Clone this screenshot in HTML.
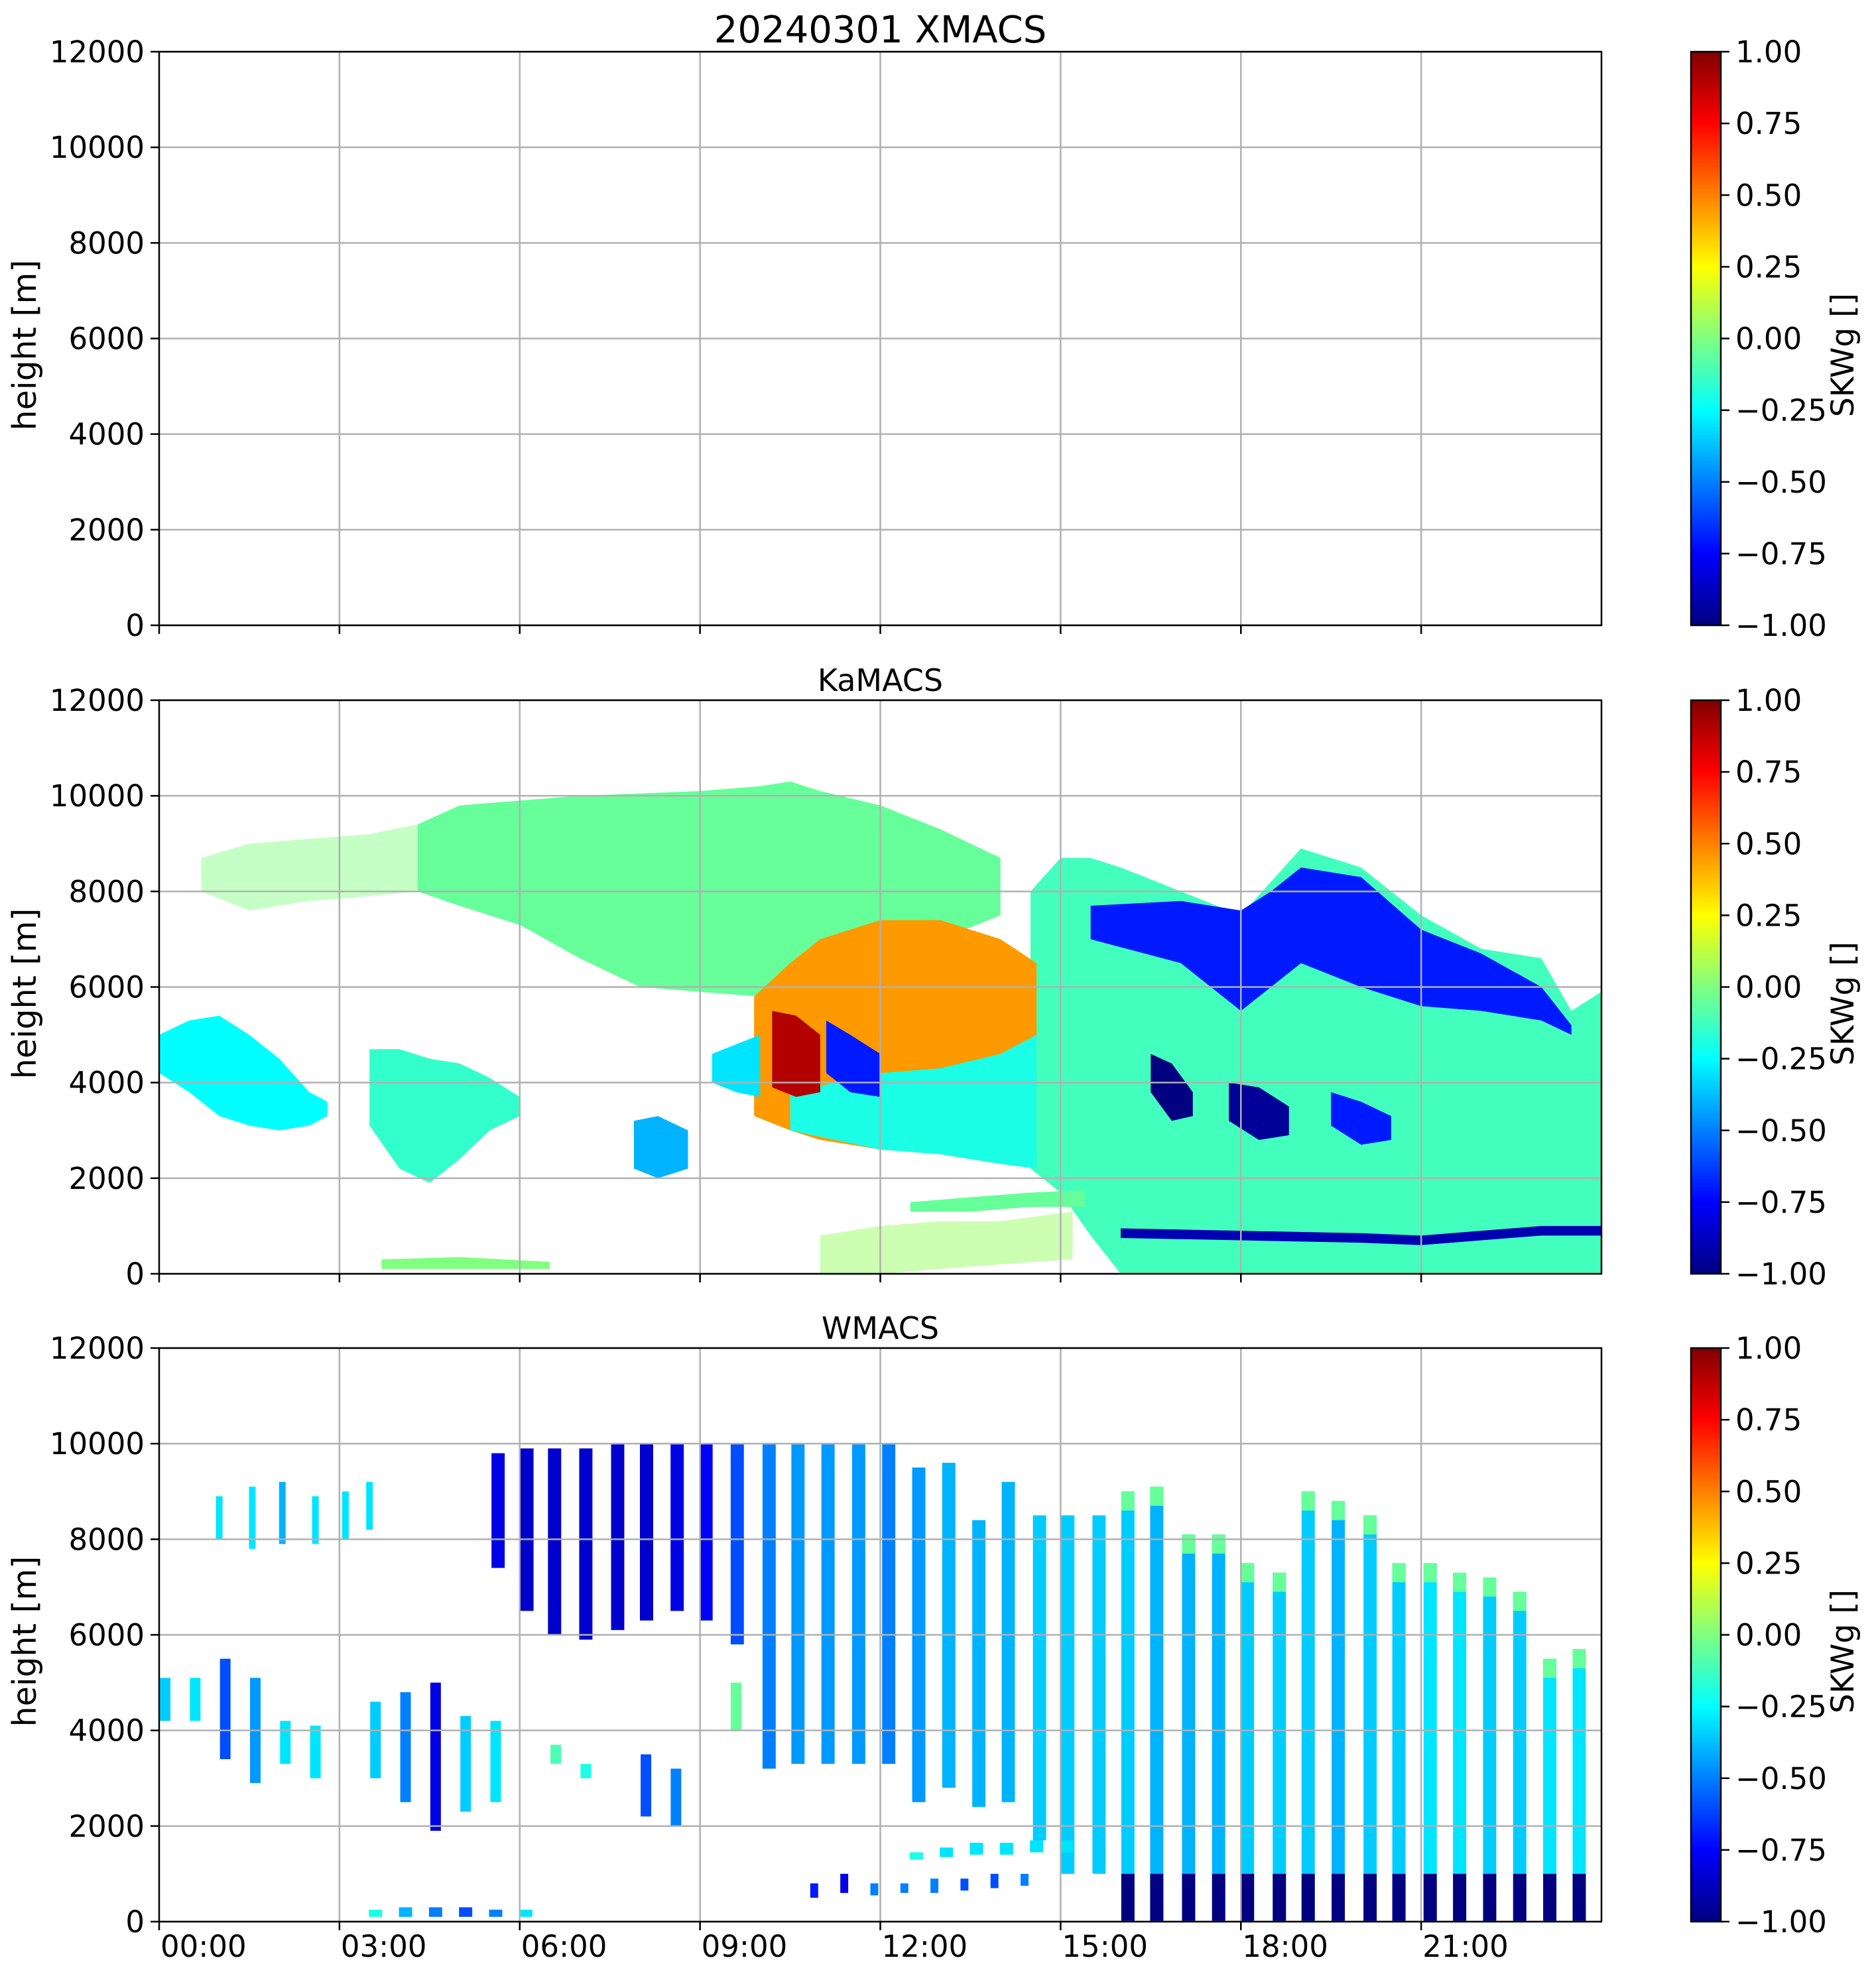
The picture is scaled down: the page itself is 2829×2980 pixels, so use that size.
<!DOCTYPE html>
<html><head><meta charset="utf-8"><style>
html,body{margin:0;padding:0;background:#fff}
svg{display:block;font-family:"DejaVu Sans","Liberation Sans",sans-serif}
</style></head><body>
<svg id="fig" width="2829" height="2980" viewBox="0 0 2829 2980" xmlns="http://www.w3.org/2000/svg"></svg>
<script>
// ---------- data ----------
const yTicks = [0,2000,4000,6000,8000,10000,12000];
const xTickHours = [0,3,6,9,12,15,18,21];
const xTickLabels = ["00:00","03:00","06:00","09:00","12:00","15:00","18:00","21:00"];
const cbTicks = [-1,-0.75,-0.5,-0.25,0,0.25,0.5,0.75,1];
const cbTickLabels = ["\u22121.00","\u22120.75","\u22120.50","\u22120.25","0.00","0.25","0.50","0.75","1.00"];
const panelTitles = ["20240301 XMACS","KaMACS","WMACS"];

// KaMACS blobs: times (h), top (m), base (m), value
const kaSparseT = [0.7,1.5,2.5,3.5,4.3];
const kaSparseTop = [8700,9000,9100,9200,9400];
const kaSparseBase = [8000,7600,7800,7900,8000];
const kaSparseVal = 0.0;
const kaCirrusT = [4.3,5,6,7,8,9,10,10.5,11,12,13,14];
const kaCirrusTop = [9400,9800,9900,10000,10050,10100,10200,10300,10100,9800,9300,8700];
const kaCirrusBase = [8000,7700,7300,6600,6000,5900,5800,5900,6000,6500,7000,7500];
const kaCirrusVal = -0.05;
const kaRightT = [14.5,15,15.5,16,17,18,19,20,21,22,23,23.5,24];
const kaRightTop = [8000,8700,8700,8500,8000,7500,8900,8500,7500,6800,6600,5500,5900];
const kaRightBase = [2200,1700,800,0,0,0,0,0,0,0,0,0,0];
const kaRightVal = -0.12;
const kaOrangeT = [9.9,10.5,11,12,13,14,14.6];
const kaOrangeTop = [5800,6500,7000,7400,7400,7000,6500];
const kaOrangeBase = [3300,3000,2800,2600,2500,2300,2200];
const kaOrangeVal = 0.45;
const kaOrangeLowT = [10.5,12,13,14,14.6];
const kaOrangeLowTop = [3800,4200,4300,4600,5000];
const kaOrangeLowBase = [3000,2600,2500,2300,2200];
const kaOrangeLowVal = -0.2;
const kaRedT = [10.2,10.6,11];
const kaRedTop = [5500,5400,5000];
const kaRedBase = [3900,3700,3800];
const kaRedVal = 0.9;
const kaBlueStripT = [11.1,11.5,12];
const kaBlueStripTop = [5300,5000,4600];
const kaBlueStripBase = [4200,3800,3700];
const kaBlueStripVal = -0.7;
const kaUpperBlueT = [15.5,17,18,18.5,19,20,21,22,23,23.5];
const kaUpperBlueTop = [7700,7800,7600,8000,8500,8300,7200,6700,6000,5200];
const kaUpperBlueBase = [7000,6500,5500,6000,6500,6000,5600,5500,5300,5000];
const kaUpperBlueVal = -0.7;
const kaDark1T = [16.5,16.85,17.2];
const kaDark1Top = [4600,4400,3800];
const kaDark1Base = [3800,3200,3300];
const kaDark1Val = -1;
const kaDark2T = [17.8,18.3,18.8];
const kaDark2Top = [4000,3900,3500];
const kaDark2Base = [3200,2800,2900];
const kaDark2Val = -0.95;
const kaDark3T = [19.5,20,20.5];
const kaDark3Top = [3800,3600,3300];
const kaDark3Base = [3100,2700,2800];
const kaDark3Val = -0.7;
const kaSurfLineT = [16,18,20,21,22,23,24];
const kaSurfLineTop = [950,900,850,800,900,1000,1000];
const kaSurfLineBase = [750,700,650,600,700,800,800];
const kaSurfLineVal = -0.9;
const kaLow1T = [0,0.5,1,1.5,2,2.5,2.8];
const kaLow1Top = [5000,5300,5400,5000,4500,3800,3600];
const kaLow1Base = [4200,3800,3300,3100,3000,3100,3300];
const kaLow1Val = -0.25;
const kaLow2T = [3.5,4,4.5,5,5.5,6];
const kaLow2Top = [4700,4700,4500,4400,4100,3700];
const kaLow2Base = [3100,2200,1900,2400,3000,3300];
const kaLow2Val = -0.15;
const kaLow3T = [7.9,8.3,8.8];
const kaLow3Top = [3200,3300,3000];
const kaLow3Base = [2200,2000,2200];
const kaLow3Val = -0.4;
const kaLow4T = [9.2,9.6,10];
const kaLow4Top = [4600,4800,5000];
const kaLow4Base = [4000,3800,3700];
const kaLow4Val = -0.3;
const kaStratusT = [12.5,13.5,14.5,15.4];
const kaStratusTop = [1500,1600,1700,1750];
const kaStratusBase = [1300,1300,1400,1400];
const kaStratusVal = -0.05;
const kaBoundaryT = [11,12,13,14,15.2];
const kaBoundaryTop = [800,1000,1100,1100,1300];
const kaBoundaryBase = [0,0,100,200,300];
const kaBoundaryVal = 0.05;
const kaSurfT = [3.7,5,6.5];
const kaSurfTop = [300,350,250];
const kaSurfBase = [100,100,100];
const kaSurfVal = 0.0;

// WMACS scan columns: time (h), base (m), top (m), value
const wUpperT = [5.64,6.12,6.58,7.1,7.63,8.11,8.62,9.1,9.62];
const wUpperBase = [7400,6500,6000,5900,6100,6300,6500,6300,5800];
const wUpperTop = [9800,9900,9900,9900,10000,10000,10000,10000,10000];
const wUpperVal = [-0.8,-0.85,-0.85,-0.85,-0.85,-0.85,-0.8,-0.75,-0.6];
const wDeepT = [10.15,10.63,11.13,11.64,12.14,12.64,13.14,13.64,14.13,14.65,15.12,15.64];
const wDeepBase = [3200,3300,3300,3300,3300,2500,2800,2400,2500,1700,1000,1000];
const wDeepTop = [10000,10000,10000,10000,10000,9500,9600,8400,9200,8500,8500,8500];
const wDeepVal = [-0.5,-0.45,-0.45,-0.45,-0.5,-0.45,-0.4,-0.4,-0.4,-0.35,-0.35,-0.35];
const wFullT = [16.12,16.6,17.13,17.63,18.11,18.64,19.12,19.62,20.15,20.63,21.15,21.64,22.14,22.64,23.14,23.63];
const wFullTop = [9000,9100,8100,8100,7500,7300,9000,8800,8500,7500,7500,7300,7200,6900,5500,5700];
const wFullVal = [-0.35,-0.4,-0.4,-0.4,-0.35,-0.35,-0.35,-0.4,-0.35,-0.35,-0.3,-0.3,-0.35,-0.35,-0.3,-0.3];
const wFullNavyTop = 1000;
const wLowT = [0.1,0.6,1.1,1.6,2.1,2.6,3.6,4.1,4.6,5.1,5.6,6.6,7.1,8.1,8.6,9.6];
const wLowBase = [4200,4200,3400,2900,3300,3000,3000,2500,1900,2300,2500,3300,3000,2200,2000,4000];
const wLowTop = [5100,5100,5500,5100,4200,4100,4600,4800,5000,4300,4200,3700,3300,3500,3200,5000];
const wLowVal = [-0.35,-0.3,-0.6,-0.45,-0.3,-0.3,-0.35,-0.5,-0.8,-0.35,-0.3,-0.1,-0.2,-0.6,-0.5,-0.05];
const wSparseT = [1.0,1.55,2.05,2.6,3.1,3.5];
const wSparseBase = [8000,7800,7900,7900,8000,8200];
const wSparseTop = [8900,9100,9200,8900,9000,9200];
const wSparseVal = [-0.3,-0.3,-0.4,-0.3,-0.3,-0.3];
const wStratusT = [12.6,13.1,13.6,14.1,14.6,15.1];
const wStratusBase = [1300,1350,1400,1400,1450,1450];
const wStratusTop = [1450,1550,1650,1650,1700,1700];
const wStratusVal = [-0.2,-0.3,-0.3,-0.3,-0.3,-0.3];
const wBLT = [10.9,11.4,11.9,12.4,12.9,13.4,13.9,14.4];
const wBLBase = [500,600,550,600,600,650,700,750];
const wBLTop = [800,1000,800,800,900,900,1000,1000];
const wBLVal = [-0.7,-0.8,-0.5,-0.5,-0.5,-0.6,-0.6,-0.5];
const wSurfT = [3.6,4.1,4.6,5.1,5.6,6.1];
const wSurfBase = [100,100,100,100,100,100];
const wSurfTop = [250,300,300,300,250,250];
const wSurfVal = [-0.2,-0.4,-0.5,-0.6,-0.5,-0.3];

// ---------- layout ----------
const NS = "http://www.w3.org/2000/svg";
const svg = document.getElementById('fig');
const X0 = 240, X1 = 2415, PH = 865;
const panelTops = [78, 1056, 2033];
const CBX0 = 2550, CBX1 = 2595;
const xs = t => X0 + t * (X1 - X0) / 24;
const ysFor = top => h => top + (1 - h / 12000) * PH;
function clamp(v){return Math.max(0,Math.min(1,v));}
function jet(val){
  const v = (val + 1) / 2;
  const r = clamp(1.5 - Math.abs(4*v - 3)), g = clamp(1.5 - Math.abs(4*v - 2)), b = clamp(1.5 - Math.abs(4*v - 1));
  return `rgb(${Math.round(r*255)},${Math.round(g*255)},${Math.round(b*255)})`;
}
function mk(tag, attrs, parent){
  const e = document.createElementNS(NS, tag);
  for (const k in attrs) e.setAttribute(k, attrs[k]);
  (parent || svg).appendChild(e);
  return e;
}
function blob(g, ys, T, top, base, val, name, op){
  let pts = T.map((t,i)=>`${xs(t)},${ys(top[i])}`);
  for (let i=T.length-1;i>=0;i--) pts.push(`${xs(T[i])},${ys(base[i])}`);
  const p = mk('polygon',{points:pts.join(' '),fill:jet(val),'fill-opacity':op||1},g);
  
  
}
function cols(g, ys, T, base, top, val, name, w){
  T.forEach((t,i)=>{
    const r = mk('rect',{x:xs(t-w/2),y:ys(top[i]),width:xs(w)-X0,height:ys(base[i])-ys(top[i]),fill:jet(val[i])},g);
    
    
  });
}

mk('defs',{}).innerHTML = panelTops.map((t,i)=>`<clipPath id="clip${i}"><rect x="${X0}" y="${t}" width="${X1-X0}" height="${PH}"/></clipPath>`).join('') +
  `<linearGradient id="jetg" x1="0" y1="1" x2="0" y2="0">` +
  [0,0.125,0.25,0.375,0.5,0.625,0.75,0.875,1].map(o=>`<stop offset="${o}" stop-color="${jet(o*2-1)}"/>`).join('') + `</linearGradient>`;

panelTops.forEach((top, pi) => {
  const ys = ysFor(top);
  const g = mk('g',{});
  
  
  const dg = mk('g',{'clip-path':`url(#clip${pi})`}, g);
  
  
  if (pi === 1) {
    blob(dg,ys,kaSparseT,kaSparseTop,kaSparseBase,kaSparseVal,'ka-sparse-cirrus',0.45);
    blob(dg,ys,kaCirrusT,kaCirrusTop,kaCirrusBase,kaCirrusVal,'ka-cirrus');
    blob(dg,ys,kaRightT,kaRightTop,kaRightBase,kaRightVal,'ka-deep-cloud');
    blob(dg,ys,kaOrangeT,kaOrangeTop,kaOrangeBase,kaOrangeVal,'ka-positive-region');
    blob(dg,ys,kaOrangeLowT,kaOrangeLowTop,kaOrangeLowBase,kaOrangeLowVal,'ka-lower-region');
    blob(dg,ys,kaRedT,kaRedTop,kaRedBase,kaRedVal,'ka-red-core');
    blob(dg,ys,kaBlueStripT,kaBlueStripTop,kaBlueStripBase,kaBlueStripVal,'ka-blue-streak');
    blob(dg,ys,kaUpperBlueT,kaUpperBlueTop,kaUpperBlueBase,kaUpperBlueVal,'ka-upper-blue');
    blob(dg,ys,kaDark1T,kaDark1Top,kaDark1Base,kaDark1Val,'ka-dark-patch');
    blob(dg,ys,kaDark2T,kaDark2Top,kaDark2Base,kaDark2Val,'ka-dark-patch');
    blob(dg,ys,kaDark3T,kaDark3Top,kaDark3Base,kaDark3Val,'ka-dark-patch');
    blob(dg,ys,kaSurfLineT,kaSurfLineTop,kaSurfLineBase,kaSurfLineVal,'ka-surface-line');
    blob(dg,ys,kaLow1T,kaLow1Top,kaLow1Base,kaLow1Val,'ka-low-cloud');
    blob(dg,ys,kaLow2T,kaLow2Top,kaLow2Base,kaLow2Val,'ka-low-cloud');
    blob(dg,ys,kaLow3T,kaLow3Top,kaLow3Base,kaLow3Val,'ka-low-cloud');
    blob(dg,ys,kaLow4T,kaLow4Top,kaLow4Base,kaLow4Val,'ka-low-cloud');
    blob(dg,ys,kaStratusT,kaStratusTop,kaStratusBase,kaStratusVal,'ka-stratus');
    blob(dg,ys,kaBoundaryT,kaBoundaryTop,kaBoundaryBase,kaBoundaryVal,'ka-boundary-layer',0.5);
    blob(dg,ys,kaSurfT,kaSurfTop,kaSurfBase,kaSurfVal,'ka-surface-echo');
  }
  if (pi === 2) {
    const W = 0.22;
    cols(dg,ys,wUpperT,wUpperBase,wUpperTop,wUpperVal,'w-upper-column',W);
    cols(dg,ys,wDeepT,wDeepBase,wDeepTop,wDeepVal,'w-deep-column',W);
    cols(dg,ys,wFullT,wFullT.map(()=>0),wFullTop,wFullVal,'w-full-column',W);
    cols(dg,ys,wFullT,wFullT.map(()=>0),wFullT.map(()=>wFullNavyTop),wFullT.map(()=>-1),'w-navy-base',W);
    cols(dg,ys,wFullT,wFullTop.map(h=>h-400),wFullTop,wFullT.map(()=>-0.05),'w-green-cap',W);
    cols(dg,ys,wLowT,wLowBase,wLowTop,wLowVal,'w-low-column',W*0.8);
    cols(dg,ys,wSparseT,wSparseBase,wSparseTop,wSparseVal,'w-sparse-column',W*0.5);
    cols(dg,ys,wStratusT,wStratusBase,wStratusTop,wStratusVal,'w-stratus',W);
    cols(dg,ys,wBLT,wBLBase,wBLTop,wBLVal,'w-boundary-layer',W*0.6);
    cols(dg,ys,wSurfT,wSurfBase,wSurfTop,wSurfVal,'w-surface-echo',W);
  }
  // grid
  yTicks.forEach(h=>{
    const l = mk('line',{x1:X0,x2:X1,y1:ys(h),y2:ys(h),stroke:'#b0b0b0','stroke-width':2.5},g);
    
    
    const tk = mk('line',{x1:X0-13,x2:X0,y1:ys(h),y2:ys(h),stroke:'#000','stroke-width':2.5},g);
    
    
    const tx = mk('text',{x:X0-22,y:ys(h)+16,'text-anchor':'end','font-size':45},g);
    tx.textContent = h;
    
    
  });
  xTickHours.forEach((hr,i)=>{
    if (hr>0){
      const l = mk('line',{x1:xs(hr),x2:xs(hr),y1:top,y2:top+PH,stroke:'#b0b0b0','stroke-width':2.5},g);
      
      
    }
    const tk = mk('line',{x1:xs(hr),x2:xs(hr),y1:top+PH,y2:top+PH+13,stroke:'#000','stroke-width':2.5},g);
    
    
    if (pi===2){
      const tx = mk('text',{x:xs(hr)+2,y:top+PH+53,'font-size':45},g);
      tx.textContent = xTickLabels[i];
      
      
    }
  });
  const fr = mk('rect',{x:X0,y:top,width:X1-X0,height:PH,fill:'none',stroke:'#000','stroke-width':2.5},g);
  
  
  const ti = mk('text',{x:(X0+X1)/2,y:top-14,'text-anchor':'middle','font-size':pi===0?56:46},g);
  ti.textContent = panelTitles[pi];
  
  
  const yl = mk('text',{x:0,y:0,'text-anchor':'middle','font-size':49,transform:`translate(54,${top+PH/2+10}) rotate(-90)`},g);
  yl.textContent = 'height [m]';
  
  
  // colorbar
  const cb = mk('rect',{x:CBX0,y:top,width:CBX1-CBX0,height:PH,fill:'url(#jetg)',stroke:'#000','stroke-width':2.5},g);
  
  
  const cy = v => top + (1 - (v+1)/2) * PH;
  cbTicks.forEach((v,i)=>{
    const tk = mk('line',{x1:CBX1,x2:CBX1+13,y1:cy(v),y2:cy(v),stroke:'#000','stroke-width':2.5},g);
    
    
    const tx = mk('text',{x:CBX1+22,y:cy(v)+16,'font-size':45},g);
    tx.textContent = cbTickLabels[i];
    
    
  });
  const cl = mk('text',{x:0,y:0,'text-anchor':'middle','font-size':47,transform:`translate(2795,${top+PH/2+25}) rotate(-90)`},g);
  cl.textContent = 'SKWg []';
  
  
});
</script>
</body></html>
